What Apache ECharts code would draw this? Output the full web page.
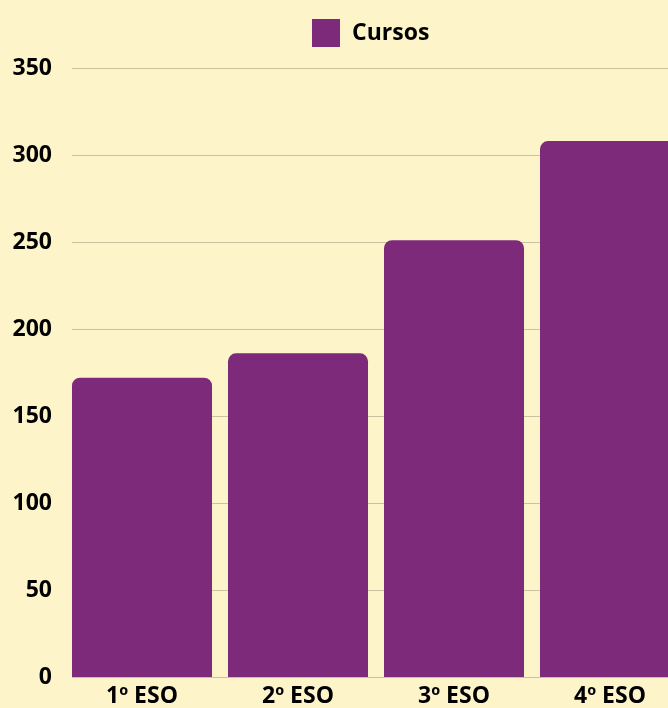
<!DOCTYPE html>
<html>
<head>
<meta charset="utf-8">
<script src="https://cdn.jsdelivr.net/npm/echarts@6/dist/echarts.min.js"></script>
<style>
  html, body { margin: 0; padding: 0; background: #fdf5c9; }
  #chart { width: 668px; height: 708px; }
</style>
</head>
<body>
<div id="chart"></div>
<script>
var categories = ["1º ESO", "2º ESO", "3º ESO", "4º ESO"];
var cursos = [172, 186, 251, 308];
var seriesName = "Cursos";
var yMin = 0;
var yMax = 350;
var yStep = 50;

var chart = echarts.init(document.getElementById("chart"));
var fontFamily = "'Open Sans', 'Noto Sans', sans-serif";
var labelStyle = {
  color: "#000",
  fontSize: 23,
  fontWeight: "bold",
  fontFamily: fontFamily,
};

var option = {
  backgroundColor: "#fdf5c9",
  legend: {
    left: 312,
    top: 19,
    padding: 0,
    itemWidth: 28,
    itemHeight: 28,
    icon: "rect",
    textStyle: Object.assign({}, labelStyle, { padding: [0, 0, 0, 7] }),
    data: [seriesName],
  },
  // grid 0 carries the value labels and gridlines, grid 1 carries the bars
  grid: [
    { left: 72, right: 0, top: 68, bottom: 31, outerBoundsMode: "none" },
    { left: 64, width: 624, top: 68, bottom: 31, outerBoundsMode: "none" },
  ],
  xAxis: [
    { type: "value", gridIndex: 0, show: false },
    {
      type: "category",
      gridIndex: 1,
      data: categories,
      axisLine: { show: false },
      axisTick: { show: false },
      axisLabel: Object.assign({}, labelStyle, { margin: 8 }),
    },
  ],
  yAxis: [
    {
      type: "value",
      gridIndex: 0,
      min: yMin,
      max: yMax,
      interval: yStep,
      axisLine: { show: false },
      axisTick: { show: false },
      splitLine: { lineStyle: { color: "#c9c2a0", width: 1 } },
      axisLabel: Object.assign({}, labelStyle, { margin: 20 }),
    },
    {
      type: "value",
      gridIndex: 1,
      min: yMin,
      max: yMax,
      interval: yStep,
      show: false,
      splitLine: { show: false },
    },
  ],
  series: [
    {
      name: seriesName,
      type: "bar",
      xAxisIndex: 1,
      yAxisIndex: 1,
      barWidth: 140,
      itemStyle: {
        color: "#7d2a7a",
        borderRadius: [8, 8, 0, 0],
      },
      data: cursos,
    },
  ],
};
chart.setOption(option);
</script>
</body>
</html>
